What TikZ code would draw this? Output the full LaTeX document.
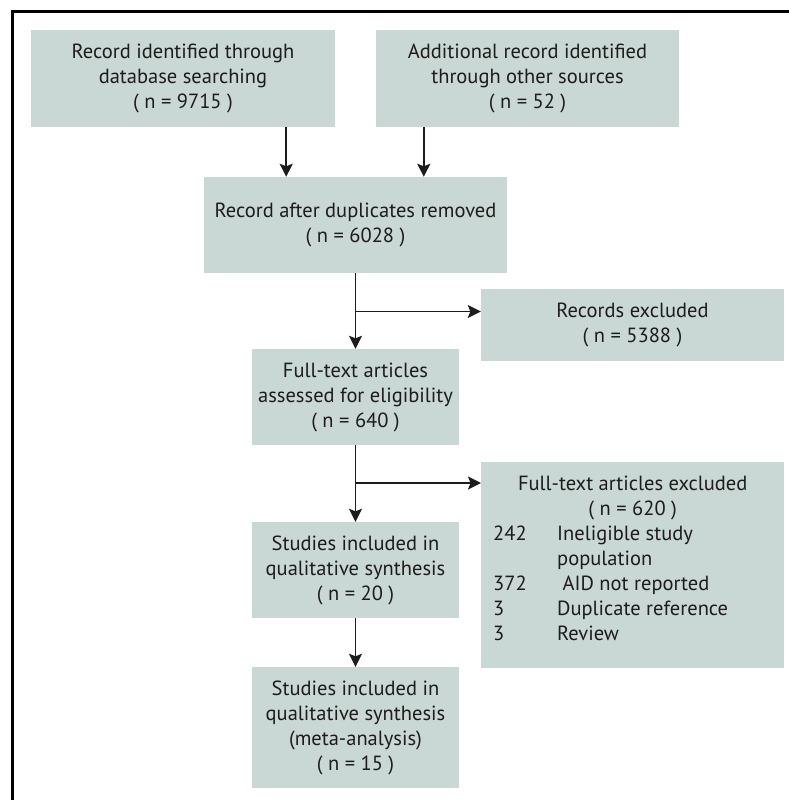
\documentclass[tikz,border=0pt]{standalone}
\usepackage{fontspec}
\setmainfont{PT Sans}
\usetikzlibrary{arrows.meta,calc}
\definecolor{boxfill}{RGB}{201,216,212}
\definecolor{ink}{RGB}{30,27,28}
\newcommand{\numcol}[1]{\makebox[64pt][l]{#1}}
\begin{document}
\begin{tikzpicture}[x=1pt,y=-1pt,
  box/.style={fill=boxfill, draw=none, inner sep=0pt, align=center,
    font=\fontsize{20.5}{25}\selectfont, text=ink},
  arr/.style={draw=ink, line width=1.6pt, -{Stealth[length=13pt,width=13pt,inset=2.5pt]}},
  frame/.style={draw=black, line width=3pt}]
\path[use as bounding box] (0,0) rectangle (789,800);
\draw[frame] (12,801) -- (12,12) -- (790,12);

\node[box, minimum width=304pt, minimum height=97pt] (A) at (183,78.5)
  {Record identified through\\database searching\\( n = 9715 )};
\node[box, minimum width=303pt, minimum height=97pt] (B) at (527.5,78.5)
  {Additional record identified\\through other sources\\( n = 52 )};
\node[box, minimum width=303pt, minimum height=96pt] (C) at (355.5,225)
  {Record after duplicates removed\\( n = 6028 )};
\node[box, minimum width=303pt, minimum height=72pt] (R) at (632.5,325)
  {Records excluded\\( n = 5388 )};
\node[box, minimum width=207pt, minimum height=96pt] (D) at (355.5,397)
  {Full-text articles\\assessed for eligibility\\( n = 640 )};
\node[box, minimum width=303pt, minimum height=206pt, anchor=north west] (X) at (481,462)
  {\begin{minipage}[c][206pt][t]{279pt}\parindent=0pt
   \centering\rule{0pt}{28pt}Full-text articles excluded\par
   ( n = 620 )\par
   \raggedright
   \numcol{242}Ineligible study\par
   \hspace*{64pt}population\par
   \numcol{372}\ AID not reported\par
   \numcol{3}Duplicate reference\par
   \numcol{3}Review\par\end{minipage}};
\node[box, minimum width=207pt, minimum height=96pt] (E) at (355.5,570)
  {Studies included in\\qualitative synthesis\\( n = 20 )};
\node[box, minimum width=207pt, minimum height=121pt] (F) at (355.5,727.5)
  {Studies included in\\qualitative synthesis\\(meta-analysis)\\( n = 15 )};

\draw[arr] ([xshift=-49pt]A.south east) -- ([xshift=-49pt]A.south east |- C.north);
\draw[arr] ([xshift=48pt]B.south west) -- ([xshift=48pt]B.south west |- C.north);
\draw[arr] (C.south) -- (D.north);
\coordinate (b1) at (355.5,311.5);
\draw[arr] (b1) -- (b1 -| R.west);
\draw[arr] (D.south) -- (E.north);
\coordinate (b2) at (355.5,483);
\draw[arr] (b2) -- (b2 -| X.west);
\draw[arr] (E.south) -- (F.north);
\end{tikzpicture}
\end{document}
